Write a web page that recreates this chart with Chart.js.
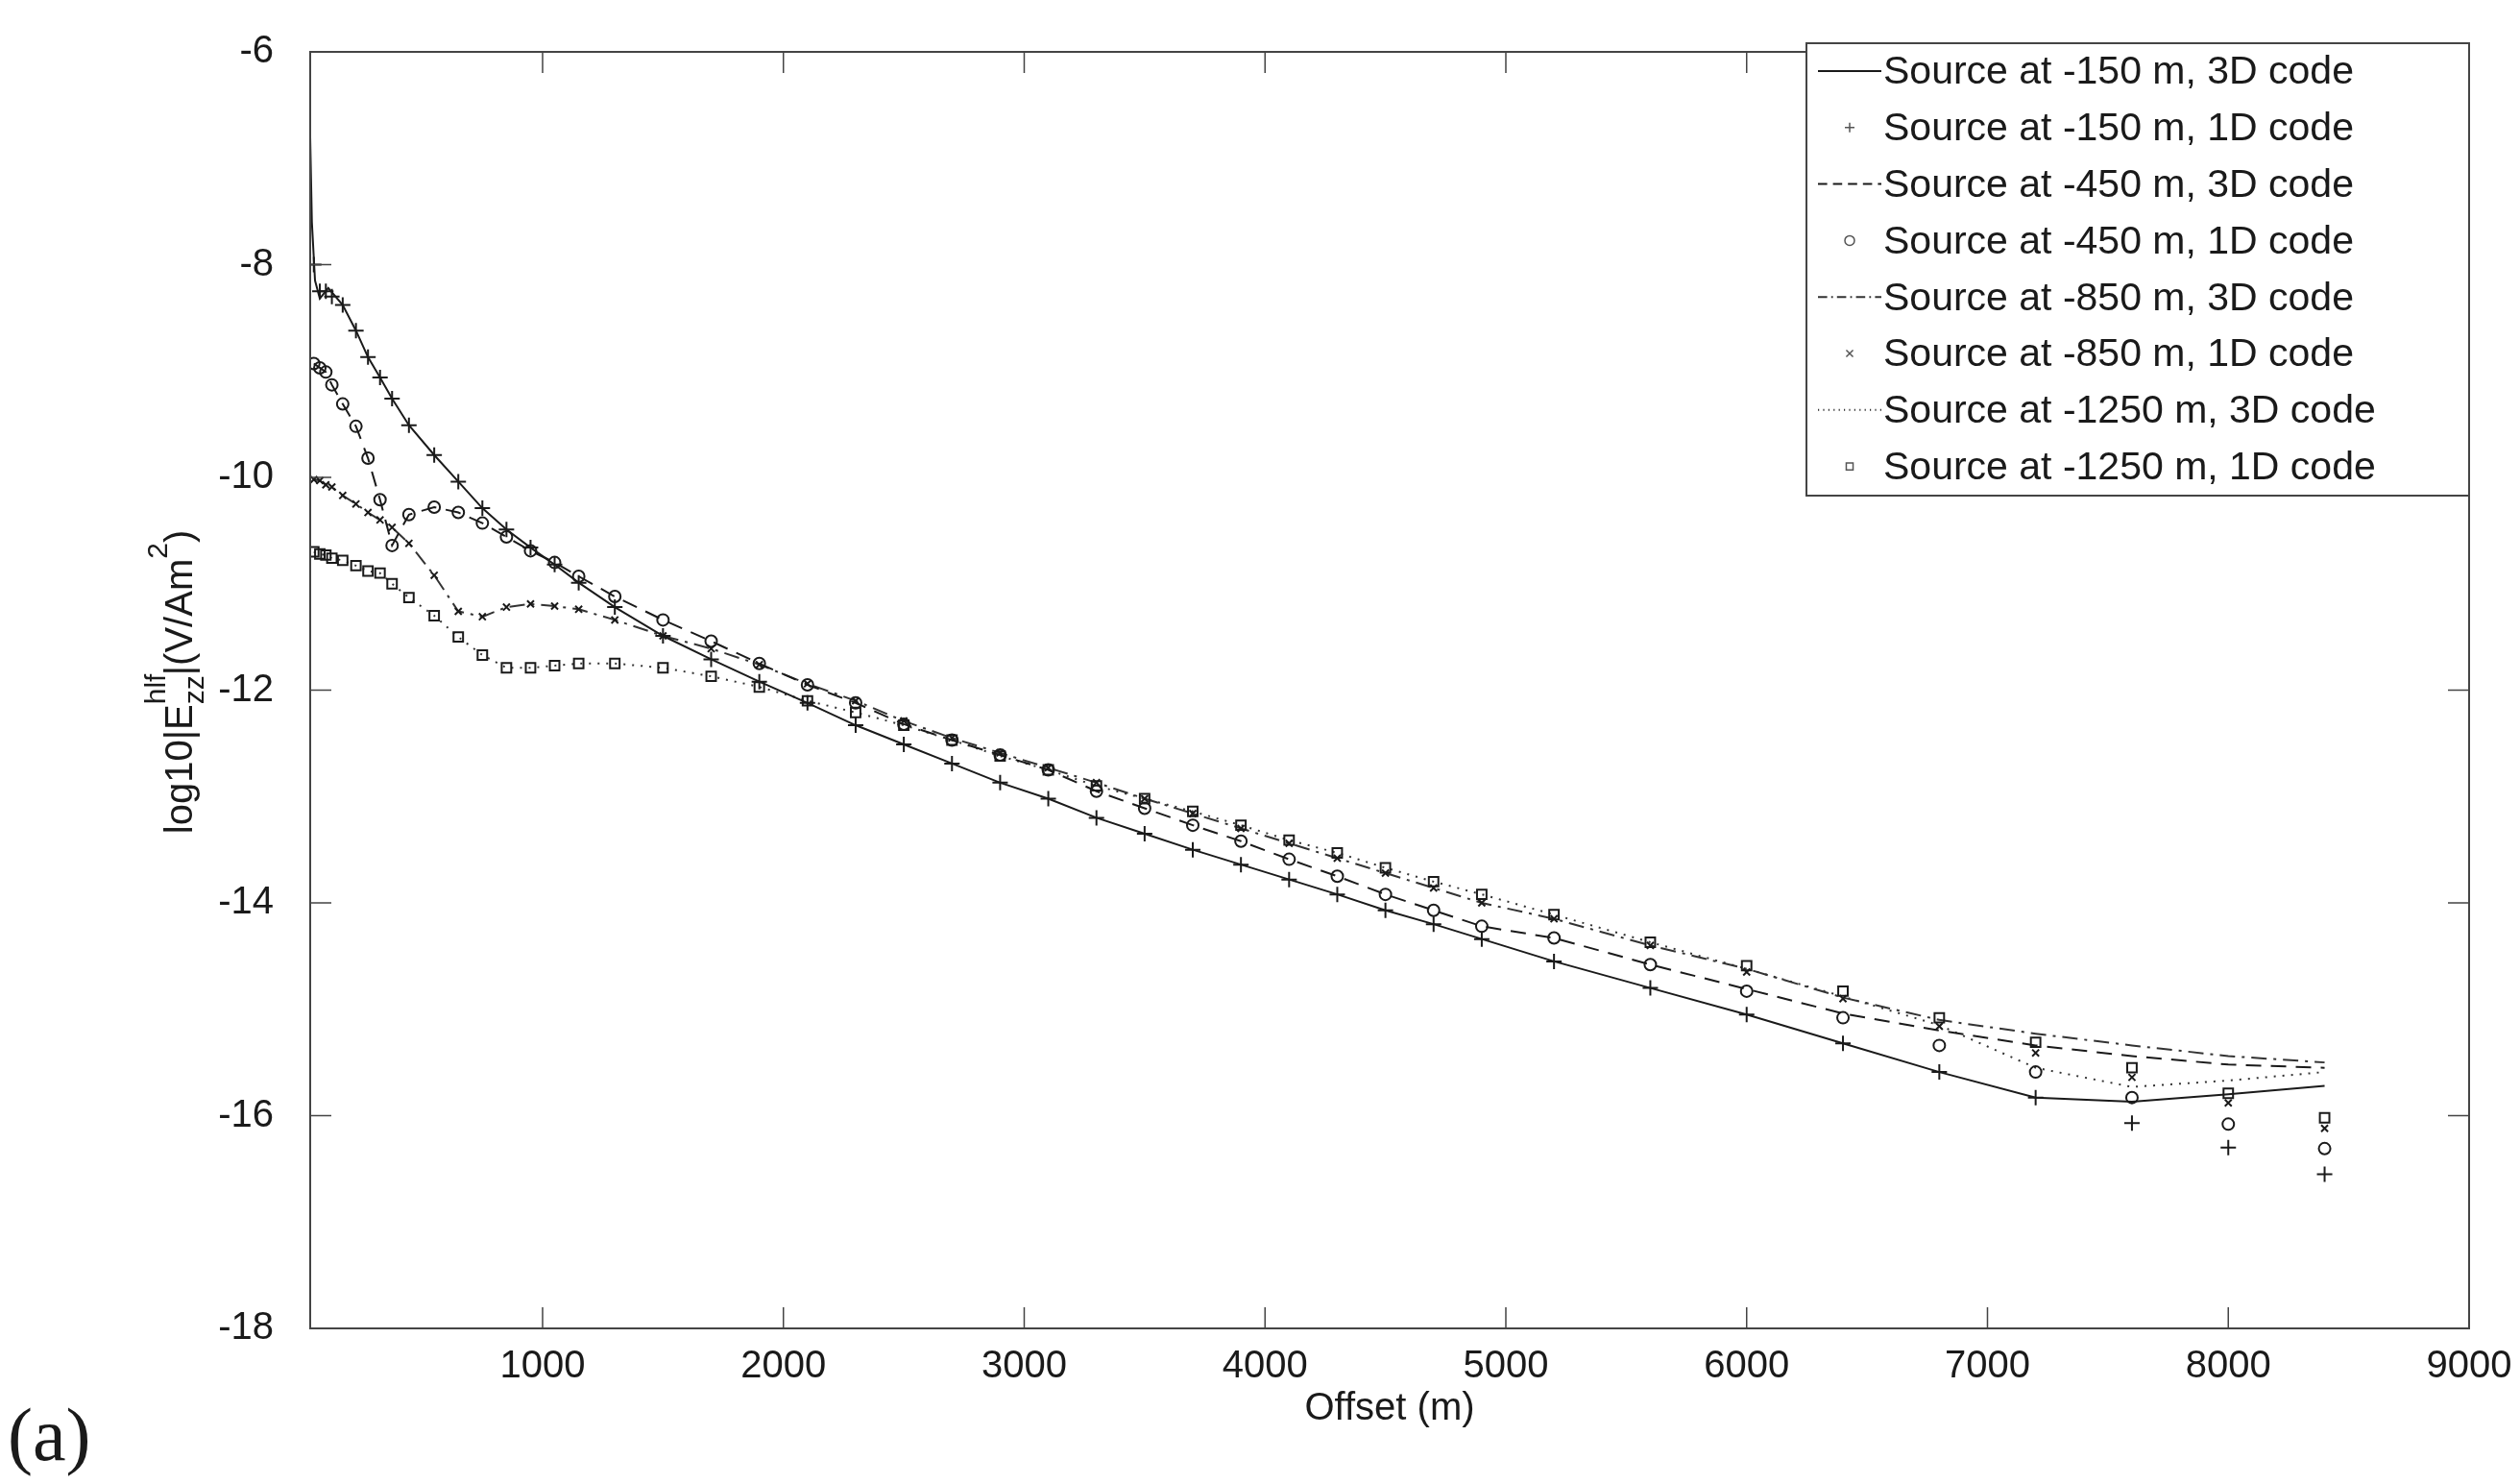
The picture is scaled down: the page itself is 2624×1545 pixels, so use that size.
<!DOCTYPE html>
<html><head><meta charset="utf-8">
<script src="https://cdn.jsdelivr.net/npm/chart.js@4/dist/chart.umd.min.js"></script>
<style>html,body{margin:0;padding:0;background:#fff}#wrap{width:2624px;height:1545px}</style>
</head><body><div id="wrap"><canvas id="c" width="2624" height="1545"></canvas></div>
<script>
const offsets = [50,75,100,125,170,225,275,325,375,445,550,650,750,850,950,1050,1150,1300,1500,1700,1900,2100,2300,2500,2700,2900,3100,3300,3500,3700,3900,4100,4300,4500,4700,4900,5200,5600,6000,6400,6800,7200,7600,8000,8400];
const offsets3D150 = [35,42,55,75,110].concat(offsets.slice(4));

const line150 = [-6.8,-7.6,-8.15,-8.32,-8.22,-8.38,-8.62,-8.87,-9.06,-9.26,-9.51,-9.79,-10.04,-10.29,-10.49,-10.66,-10.82,-10.99,-11.22,-11.49,-11.71,-11.92,-12.12,-12.33,-12.51,-12.69,-12.87,-13.02,-13.2,-13.35,-13.5,-13.64,-13.78,-13.92,-14.07,-14.2,-14.34,-14.55,-14.8,-15.05,-15.32,-15.59,-15.83,-15.87,-15.8,-15.72];
const pts150 = [-8.0,-8.25,-8.25,-8.3,-8.38,-8.62,-8.87,-9.06,-9.26,-9.51,-9.79,-10.04,-10.29,-10.49,-10.66,-10.82,-10.99,-11.22,-11.49,-11.71,-11.92,-12.12,-12.33,-12.51,-12.69,-12.87,-13.02,-13.2,-13.35,-13.5,-13.64,-13.78,-13.92,-14.07,-14.2,-14.34,-14.55,-14.8,-15.05,-15.32,-15.59,-15.83,-16.07,-16.3,-16.55];
const line450 = [-8.93,-8.97,-9.01,-9.13,-9.31,-9.52,-9.82,-10.21,-10.64,-10.35,-10.28,-10.33,-10.43,-10.56,-10.69,-10.8,-10.93,-11.12,-11.34,-11.54,-11.75,-11.95,-12.12,-12.32,-12.47,-12.61,-12.75,-12.95,-13.11,-13.27,-13.42,-13.59,-13.75,-13.92,-14.07,-14.22,-14.33,-14.58,-14.81,-15.04,-15.2,-15.34,-15.44,-15.52,-15.55];
const pts450 = [-8.93,-8.97,-9.01,-9.13,-9.31,-9.52,-9.82,-10.21,-10.64,-10.35,-10.28,-10.33,-10.43,-10.56,-10.69,-10.8,-10.93,-11.12,-11.34,-11.54,-11.75,-11.95,-12.12,-12.32,-12.47,-12.61,-12.75,-12.95,-13.11,-13.27,-13.42,-13.59,-13.75,-13.92,-14.07,-14.22,-14.33,-14.58,-14.83,-15.08,-15.34,-15.59,-15.83,-16.08,-16.31];
const line850 = [-10.02,-10.03,-10.07,-10.09,-10.17,-10.25,-10.33,-10.4,-10.47,-10.62,-10.92,-11.26,-11.31,-11.22,-11.19,-11.21,-11.24,-11.34,-11.49,-11.61,-11.76,-11.94,-12.1,-12.29,-12.45,-12.59,-12.73,-12.87,-13.02,-13.16,-13.3,-13.44,-13.58,-13.72,-13.86,-14.0,-14.15,-14.4,-14.62,-14.89,-15.1,-15.23,-15.34,-15.44,-15.5];
const pts850 = [-10.02,-10.03,-10.07,-10.09,-10.17,-10.25,-10.33,-10.4,-10.47,-10.62,-10.92,-11.26,-11.31,-11.22,-11.19,-11.21,-11.24,-11.34,-11.49,-11.61,-11.76,-11.94,-12.1,-12.29,-12.45,-12.59,-12.73,-12.87,-13.02,-13.16,-13.3,-13.44,-13.58,-13.72,-13.86,-14.0,-14.15,-14.4,-14.65,-14.9,-15.16,-15.41,-15.64,-15.88,-16.12];
const line1250 = [-10.7,-10.72,-10.73,-10.76,-10.78,-10.83,-10.88,-10.9,-11.0,-11.13,-11.3,-11.5,-11.67,-11.79,-11.79,-11.77,-11.75,-11.75,-11.79,-11.87,-11.97,-12.1,-12.21,-12.33,-12.47,-12.62,-12.75,-12.9,-13.02,-13.14,-13.27,-13.41,-13.53,-13.67,-13.8,-13.92,-14.11,-14.37,-14.62,-14.88,-15.15,-15.55,-15.73,-15.67,-15.59];
const pts1250 = [-10.7,-10.72,-10.73,-10.76,-10.78,-10.83,-10.88,-10.9,-11.0,-11.13,-11.3,-11.5,-11.67,-11.79,-11.79,-11.77,-11.75,-11.75,-11.79,-11.87,-11.97,-12.1,-12.21,-12.33,-12.47,-12.62,-12.75,-12.9,-13.02,-13.14,-13.27,-13.41,-13.53,-13.67,-13.8,-13.92,-14.11,-14.37,-14.59,-14.83,-15.08,-15.31,-15.55,-15.79,-16.02];

const seriesNames = ['Source at -150 m, 3D code','Source at -150 m, 1D code','Source at -450 m, 3D code','Source at -450 m, 1D code','Source at -850 m, 3D code','Source at -850 m, 1D code','Source at -1250 m, 3D code','Source at -1250 m, 1D code'];
const xTicks = [1000,2000,3000,4000,5000,6000,7000,8000,9000];
const yTicks = [-18,-16,-14,-12,-10,-8,-6];

const FONT = '"Liberation Sans", Arial, sans-serif';
const INK = '#1a1a1a';
const xy = (xs, ys) => ys.map((y,i)=>({x:xs[i], y}));
const lineDs = (label, xs, ys, dash, color) => ({label, data: xy(xs,ys), borderColor: color||INK, borderWidth: 2, borderDash: dash, pointRadius: 0, showLine: true, fill:false, tension:0, order:1});
const ptDs = (label, ys, style, r) => ({label, data: xy(offsets, ys), showLine:false, pointStyle: style, pointRadius: r, borderColor: INK, backgroundColor:'rgba(0,0,0,0)', pointBorderWidth: 2, order:0});

const datasets = [
  lineDs(seriesNames[0], offsets3D150, line150, []),
  ptDs(seriesNames[1], pts150, 'cross', 8),
  lineDs(seriesNames[2], offsets, line450, [16,10]),
  ptDs(seriesNames[3], pts450, 'circle', 6),
  lineDs(seriesNames[4], offsets, line850, [16,7,3,7], '#333'),
  ptDs(seriesNames[5], pts850, 'crossRot', 5),
  lineDs(seriesNames[6], offsets, line1250, [2,7], '#333'),
  ptDs(seriesNames[7], pts1250, 'rect', 7),
];

const deco = {
  id:'deco',
  afterDraw(chart){
    const {ctx, chartArea:a, scales:{x,y}} = chart;
    ctx.save();
    ctx.strokeStyle = '#444'; ctx.lineWidth = 2;
    ctx.strokeRect(a.left, a.top, a.right-a.left, a.bottom-a.top);
    ctx.lineWidth = 1.5;
    xTicks.forEach(v=>{const p=x.getPixelForValue(v); ctx.beginPath(); ctx.moveTo(p,a.bottom); ctx.lineTo(p,a.bottom-22); ctx.moveTo(p,a.top); ctx.lineTo(p,a.top+22); ctx.stroke();});
    yTicks.forEach(v=>{const p=y.getPixelForValue(v); ctx.beginPath(); ctx.moveTo(a.left,p); ctx.lineTo(a.left+22,p); ctx.moveTo(a.right,p); ctx.lineTo(a.right-22,p); ctx.stroke();});
    // legend
    const lx=1881, ly=45, lw=690, lh=471;
    ctx.fillStyle='#fff'; ctx.fillRect(lx,ly,lw,lh);
    ctx.strokeStyle='#444'; ctx.lineWidth=2; ctx.strokeRect(lx,ly,lw,lh);
    ctx.font = '41px '+FONT; ctx.textBaseline='middle'; ctx.textAlign='left';
    datasets.forEach((d,i)=>{
      const cy = ly + 29 + i*58.8;
      ctx.fillStyle = INK; ctx.fillText(d.label, lx+80, cy+2);
      ctx.strokeStyle = d.borderColor; ctx.lineWidth = 2;
      if (d.showLine){ ctx.setLineDash(d.borderDash.length? d.borderDash.map(v=>v*0.6):[]); ctx.beginPath(); ctx.moveTo(lx+12,cy); ctx.lineTo(lx+78,cy); ctx.stroke(); ctx.setLineDash([]); }
      else { ctx.fillStyle='rgba(0,0,0,0)'; ctx.strokeStyle='#555'; ctx.lineWidth=1.5; Chart.helpers.drawPoint(ctx,{pointStyle:d.pointStyle, radius:5, borderWidth:1.5}, lx+45, cy); }
    });
    // axis titles
    ctx.fillStyle = INK; ctx.textAlign='center'; ctx.textBaseline='alphabetic';
    ctx.font = '40px '+FONT; ctx.fillText('Offset (m)', (a.left+a.right)/2, 1478);
    ctx.save(); ctx.translate(200, 710); ctx.rotate(-Math.PI/2);
    const parts = [['log10|E',40,0],['zz',30,12],['|(V/Am',40,0],['2',30,-26],[')',40,0]];
    ctx.textAlign='left';
    let tw=0; parts.forEach(p=>{ctx.font=p[1]+'px '+FONT; tw+=ctx.measureText(p[0]).width;});
    let cx=-tw/2;
    parts.forEach((p,i)=>{ctx.font=p[1]+'px '+FONT; ctx.fillText(p[0],cx,p[2]); if(i===1){ctx.fillText('hlf',cx,-28);} cx+=ctx.measureText(p[0]).width;});
    ctx.restore();
    ctx.font = '78px "Liberation Serif", serif'; ctx.textAlign='left';
    ctx.fillText('(a)', 8, 1520);
    ctx.restore();
  }
};

new Chart(document.getElementById('c'), {
  type:'scatter',
  data:{datasets},
  options:{
    responsive:false, animation:false, devicePixelRatio:1,
    layout:{padding:{left:203, right:53, top:37, bottom:100}},
    plugins:{legend:{display:false}, tooltip:{enabled:false}},
    scales:{
      x:{type:'linear', min:35, max:9000,
        afterBuildTicks:s=>{s.ticks = xTicks.map(v=>({value:v}));},
        afterFit:s=>{s.height=62;},
        grid:{display:false}, border:{display:false},
        ticks:{font:{size:40, family:FONT}, color:INK, padding:8, maxRotation:0, autoSkip:false, callback:v=>String(v)}},
      y:{type:'linear', min:-18, max:-6,
        afterBuildTicks:s=>{s.ticks = yTicks.map(v=>({value:v}));},
        afterFit:s=>{s.width=120;},
        grid:{display:false}, border:{display:false},
        ticks:{font:{size:40, family:FONT}, color:INK, padding:30, callback:v=>String(v)}}
    }
  },
  plugins:[deco]
});
</script></body></html>
